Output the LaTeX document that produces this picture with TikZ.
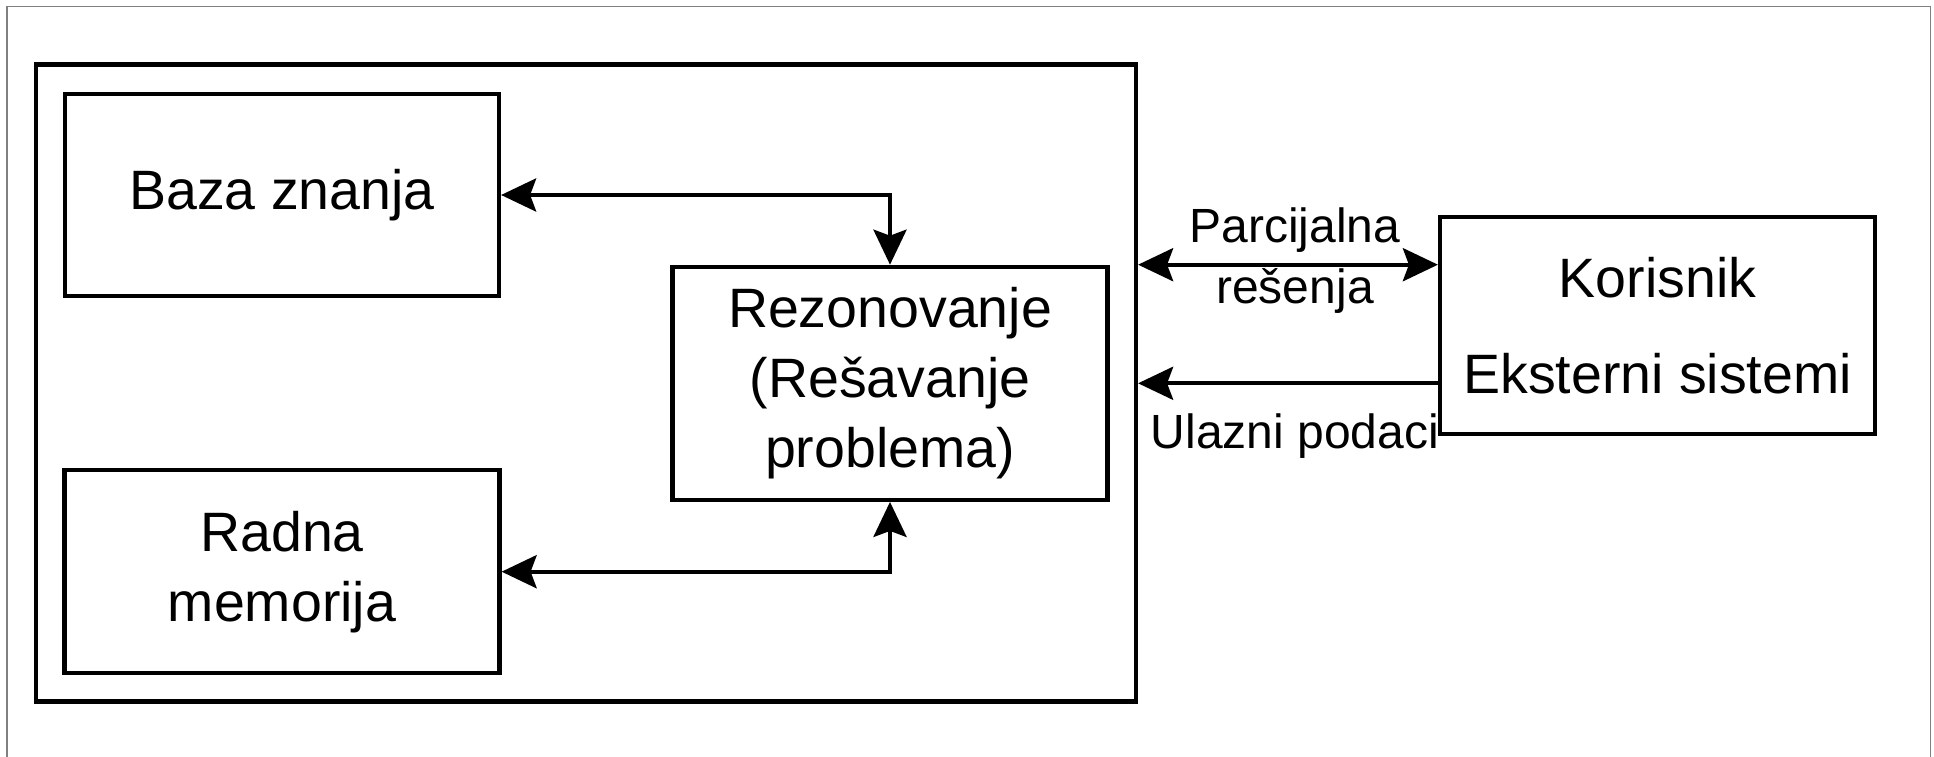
\documentclass[tikz,border=0pt]{standalone}
\usepackage{fontspec}
\setmainfont{Liberation Sans}
\usetikzlibrary{arrows.meta}

\tikzset{
  box/.style={draw=black, line width=4.2pt, inner sep=0pt, align=center,
              font=\fontsize{55.5}{70}\selectfont},
  link/.style={line width=4.2pt, black,
               arrows={-Stealth[length=35pt, width=33pt, inset=6pt]}},
  biglink/.style={link, arrows={Stealth[length=35pt, width=33pt, inset=6pt]-Stealth[length=35pt, width=33pt, inset=6pt]}},
  lbl/.style={font=\fontsize{48}{58}\selectfont, inner sep=0pt, anchor=base},
  pageframe/.style={draw=black!50, line width=1.8pt}
}

\begin{document}
\begin{tikzpicture}[x=1pt, y=-1pt]
  \useasboundingbox (0,0) rectangle (1934,757);
  \fill[white] (0,0) rectangle (1934,757);

  % thin page border (open at the bottom)
  \draw[pageframe] (7,760) -- (7,6.5) -- (1930.5,6.5) -- (1930.5,760);

  % expert system frame and its parts
  \node[box, minimum width=1100pt, minimum height=637pt] (sys) at (586,383) {};
  \node[box, minimum width=434pt, minimum height=202pt] (baza) at (282,195) {Baza znanja};
  \node[box, minimum width=435pt, minimum height=203pt] (radna) at (282,571.7) {Radna\\memorija};
  \node[box, minimum width=435pt, minimum height=233pt] (rez) at (890,383.3) {Rezonovanje\\(Rešavanje\\problema)};

  % external side
  \node[box, minimum width=435pt, minimum height=217pt] (kor) at (1657.5,325.3)
       {Korisnik\\[26pt]Eksterni sistemi};

  % connectors inside the system
  \draw[biglink] (baza.east) -| (rez.north);
  \draw[biglink] (radna.east) -| (rez.south);

  % connectors to the user / external systems
  \draw[biglink] (sys.east |- rez.north) --
      node[lbl, xshift=7pt, yshift=22pt] {Parcijalna}
      node[lbl, xshift=7pt, yshift=-39pt] {rešenja}
      (kor.west |- rez.north);
  \draw[link] (kor.west |- rez.center) --
      node[lbl, xshift=7pt, yshift=-64.7pt] {Ulazni podaci}
      (sys.east |- rez.center);
\end{tikzpicture}
\end{document}
